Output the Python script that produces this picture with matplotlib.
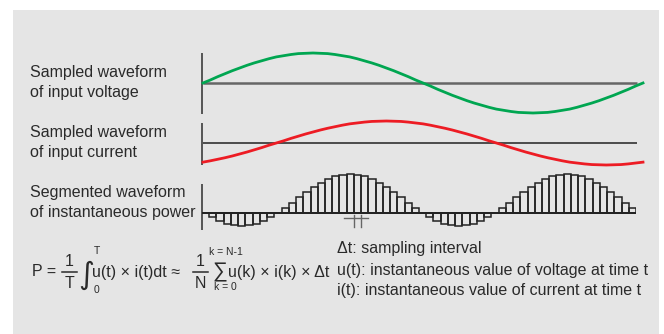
import matplotlib
matplotlib.use("Agg")
import matplotlib.pyplot as plt
from matplotlib.patches import Rectangle

plt.rcParams["font.family"] = ["Liberation Sans", "DejaVu Sans"]

# sampled values, one per sampling step (60 steps = one period of the voltage)
voltage = [0.00, 0.10, 0.21, 0.31, 0.41, 0.50, 0.59, 0.67, 0.74, 0.81,
           0.87, 0.91, 0.95, 0.98, 0.99, 1.00, 0.99, 0.98, 0.95, 0.91,
           0.87, 0.81, 0.74, 0.67, 0.59, 0.50, 0.41, 0.31, 0.21, 0.10,
           0.00, -0.10, -0.21, -0.31, -0.41, -0.50, -0.59, -0.67, -0.74, -0.81,
           -0.87, -0.91, -0.95, -0.98, -0.99, -1.00, -0.99, -0.98, -0.95, -0.91,
           -0.87, -0.81, -0.74, -0.67, -0.59, -0.50, -0.41, -0.31, -0.21, -0.10,
           0.00]
current = [-0.87, -0.81, -0.74, -0.67, -0.59, -0.50, -0.41, -0.31, -0.21, -0.10,
           0.00, 0.10, 0.21, 0.31, 0.41, 0.50, 0.59, 0.67, 0.74, 0.81,
           0.87, 0.91, 0.95, 0.98, 0.99, 1.00, 0.99, 0.98, 0.95, 0.91,
           0.87, 0.81, 0.74, 0.67, 0.59, 0.50, 0.41, 0.31, 0.21, 0.10,
           0.00, -0.10, -0.21, -0.31, -0.41, -0.50, -0.59, -0.67, -0.74, -0.81,
           -0.87, -0.91, -0.95, -0.98, -0.99, -1.00, -0.99, -0.98, -0.95, -0.91,
           -0.87]
power = [0.00, -0.085, -0.155, -0.207, -0.239, -0.25, -0.239, -0.207, -0.155, -0.085,
         0.00, 0.095, 0.198, 0.302, 0.405, 0.50, 0.585, 0.655, 0.707, 0.739,
         0.75, 0.739, 0.707, 0.655, 0.585, 0.50, 0.405, 0.302, 0.198, 0.095,
         0.00, -0.085, -0.155, -0.207, -0.239, -0.25, -0.239, -0.207, -0.155, -0.085,
         0.00, 0.095, 0.198, 0.302, 0.405, 0.50, 0.585, 0.655, 0.707, 0.739,
         0.75, 0.739, 0.707, 0.655, 0.585, 0.50, 0.405, 0.302, 0.198, 0.095]

labels = [("Sampled waveform", "of input voltage"),
          ("Sampled waveform", "of input current"),
          ("Segmented waveform", "of instantaneous power")]
notes = ["\u0394t: sampling interval",
         "u(t): instantaneous value of voltage at time t",
         "i(t): instantaneous value of current at time t"]

W, H = 664, 334
BG = "#e5e5e5"
TXT = "#2a2a2a"
FS = 11.5
fig = plt.figure(figsize=(W / 100, H / 100), dpi=100)


def px_axes(x0, y0, x1, y1):
    ax = fig.add_axes([x0 / W, 1 - y1 / H, (x1 - x0) / W, (y1 - y0) / H])
    ax.axis("off")
    return ax


bg = px_axes(0, 0, W, H)
bg.set_xlim(0, W)
bg.set_ylim(H, 0)
bg.add_patch(Rectangle((13, 10), 646, 324, facecolor=BG, edgecolor="none"))

# vertical axis lines of the three panels
for y0, y1 in [(53, 114), (123, 165), (184, 230)]:
    bg.plot([202, 202], [y0, y1], color="#555555", lw=1.4, solid_capstyle="butt")

# voltage
ax_v = px_axes(203, 53, 643, 113)
ax_v.set_xlim(0, 60)
ax_v.set_ylim(-1, 1)
ax_v.hlines(0, 0, 59.2, color="#666666", lw=1.8)
ax_v.plot(range(len(voltage)), voltage, color="#00a651", lw=2.0, clip_on=False)

# current
ax_i = px_axes(203, 121, 643, 165)
ax_i.set_xlim(0, 60)
ax_i.set_ylim(-1, 1)
ax_i.hlines(0, 0, 59.2, color="#222222", lw=1.1)
ax_i.plot(range(len(current)), current, color="#ed1c24", lw=2.0, clip_on=False)

# instantaneous power, one segment per sample
ax_p = px_axes(202, 171.4, 636, 233.8)
ax_p.set_xlim(0, 60)
ax_p.set_ylim(-0.4, 0.8)
ax_p.bar(range(len(power)), power, width=1, align="edge", facecolor="none",
         edgecolor="#222222", linewidth=1.1)
ax_p.hlines(0, 0, 60, color="#222222", lw=1.4)
# delta-t marker under one segment
ax_p.plot([19.6, 23.0], [-0.1, -0.1], color="#666666", lw=1.0, clip_on=False)
for xk in (21, 22):
    ax_p.plot([xk, xk], [-0.03, -0.27], color="#666666", lw=1.0, clip_on=False)

# labels
for (l1, l2), yc in zip(labels, [83, 143, 202]):
    bg.text(30, yc - 10, l1, fontsize=FS, color=TXT, va="center", ha="left")
    bg.text(30, yc + 10, l2, fontsize=FS, color=TXT, va="center", ha="left")


# formula, built from pieces
def t(x, y, s, size=FS, ha="left", family=None):
    bg.text(x, y, s, fontsize=size, color=TXT, va="center", ha=ha,
            family=family)


YF = 272
t(32, YF, "P =")
t(69.5, 261, "1", ha="center")
t(69.5, 284, "T", ha="center")
bg.plot([62, 77], [YF, YF], color=TXT, lw=1.1)
t(86.5, 275, "\u222b", size=22, ha="center", family="DejaVu Sans")
t(94, 251, "T", size=7.5)
t(94, 290, "0", size=7.5)
t(92.5, YF, "u(t) \u00d7 i(t)dt \u2248")
t(200.5, 261, "1", ha="center")
t(200.5, 284, "N", ha="center")
bg.plot([193, 208], [YF, YF], color=TXT, lw=1.1)
t(220, 272, "\u2211", size=15, ha="center")
t(226, 252, "k = N-1", size=7.5, ha="center")
t(225, 287, "k = 0", size=7.5, ha="center")
t(228, YF, "u(k) \u00d7 i(k) \u00d7 \u0394t")

for txt, yc in zip(notes, [248, 270, 291]):
    t(337, yc, txt)

fig.savefig("out.png", dpi=100)
